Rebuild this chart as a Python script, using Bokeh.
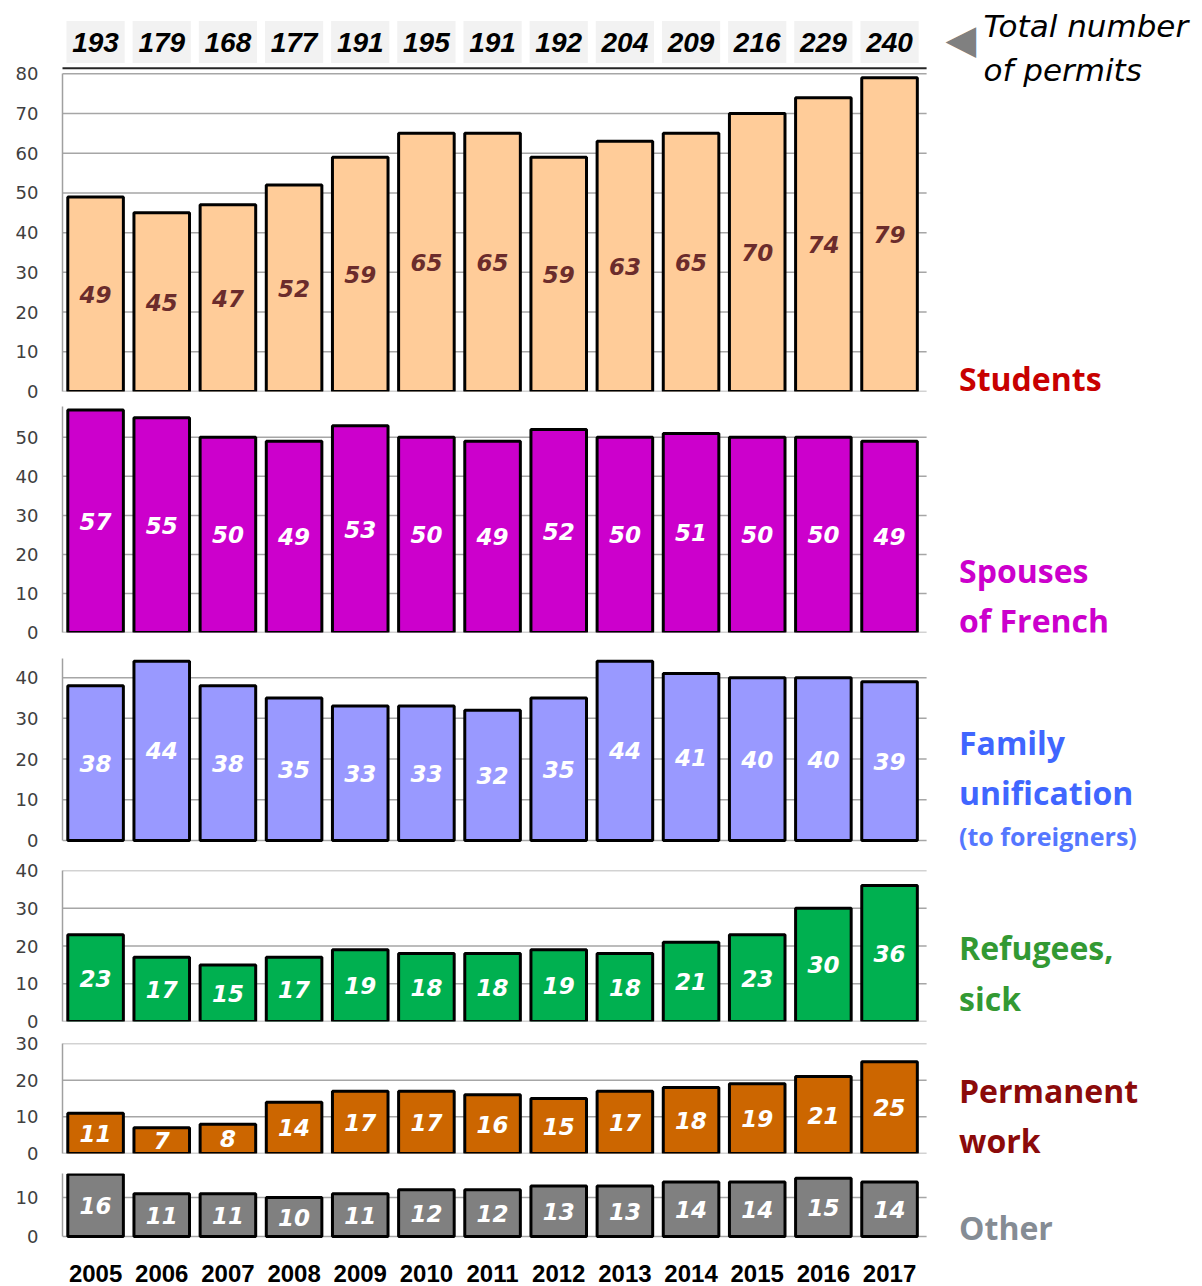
from bokeh.plotting import figure
from bokeh.models import Range1d, FixedTicker, Label
from bokeh.layouts import column
from bokeh.embed import file_html
from bokeh.resources import INLINE
from bokeh.core.properties import value

years = [str(y) for y in range(2005, 2018)]
totals = [193, 179, 168, 177, 191, 195, 191, 192, 204, 209, 216, 229, 240]
students = [49, 45, 47, 52, 59, 65, 65, 59, 63, 65, 70, 74, 79]
spouses = [57, 55, 50, 49, 53, 50, 49, 52, 50, 51, 50, 50, 49]
family = [38, 44, 38, 35, 33, 33, 32, 35, 44, 41, 40, 40, 39]
refugees = [23, 17, 15, 17, 19, 18, 18, 19, 18, 21, 23, 30, 36]
permanent = [11, 7, 8, 14, 17, 17, 16, 15, 17, 18, 19, 21, 25]
other = [16, 11, 11, 10, 11, 12, 12, 13, 13, 14, 14, 15, 14]

xi = list(range(len(years)))          # category positions
X0, X1 = -0.5, 16.73                  # data range of the frame (incl. right-hand label area)
GX1 = 12.56                           # right end of the chart area

# (values, ymin, ymax, top tick, frame_height, border_top, border_bottom, bar colour,
#  label colour, right labels [(text, y, size, colour)])
panels = [
    (students, 0, 97.2, 80, 386, 5, 11, "#FFCC99", "#6B2C2C",
     [("Students", 3.3, "32px", "#C80000")]),
    (spouses, 0, 57.9, 50, 226, 4, 11, "#CC00CC", "white",
     [("Spouses", 15.9, "32px", "#CC00CC"), ("of French", 3.1, "32px", "#CC00CC")]),
    (family, -3.7, 44.7, 40, 197, 15, 0, "#9999FF", "white",
     [("Family", 24.0, "32px", "#4066FF"), ("unification", 11.8, "32px", "#4066FF"),
      ("(to foreigners)", 1.1, "25px", "#5577FF")]),
    (refugees, 0, 40.0, 40, 151, 15, 11, "#00B050", "white",
     [("Refugees,", 19.6, "32px", "#339933"), ("sick", 6.1, "32px", "#339933")]),
    (permanent, 0, 30.0, 30, 110, 11, 11, "#CC6600", "white",
     [("Permanent", 17.2, "32px", "#8B0A0A"), ("work", 3.5, "32px", "#8B0A0A")]),
    (other, -3.6, 16.2, 10, 77, 9, 36, "#808080", "white",
     [("Other", 2.3, "32px", "#858C94")]),
]

figs = []
for i, (vals, ymin, ymax, ttop, fh, bt, bb, col, lcol, rlabels) in enumerate(panels):
    p = figure(x_range=Range1d(X0, X1), y_range=Range1d(ymin, ymax),
               frame_width=1140, frame_height=fh,
               min_border_left=62, min_border_right=0,
               min_border_top=bt, min_border_bottom=bb,
               output_backend="svg", toolbar_location=None)
    p.outline_line_color = None
    p.background_fill_color = "white"
    p.border_fill_color = "white"
    ticks = list(range(0, ttop + 1, 10))
    p.yaxis.ticker = FixedTicker(ticks=ticks)
    p.grid.visible = False
    # horizontal grid lines restricted to the chart area
    p.segment(x0=[X0] * len(ticks), x1=[GX1] * len(ticks), y0=ticks, y1=ticks,
              line_color="#A6A6A6", line_width=1.5)
    p.yaxis.bounds = (0, ttop if i == 0 else ymax)
    p.yaxis.axis_line_color = "#A0A0A0"
    p.yaxis.axis_line_width = 1.5
    p.yaxis.major_tick_line_color = None
    p.yaxis.minor_tick_line_color = None
    p.yaxis.major_label_text_font = "DejaVu Sans"
    p.yaxis.major_label_text_font_size = "18px"
    p.yaxis.major_label_text_color = "#404040"
    p.yaxis.major_label_standoff = 18

    if i == len(panels) - 1:
        p.xaxis.ticker = FixedTicker(ticks=xi)
        p.xaxis.major_label_overrides = {k: y for k, y in zip(xi, years)}
        p.xaxis.axis_line_color = None
        p.xaxis.major_tick_line_color = None
        p.xaxis.minor_tick_line_color = None
        p.xaxis.major_label_text_font = "Liberation Sans"
        p.xaxis.major_label_text_font_style = "bold"
        p.xaxis.major_label_text_font_size = "24px"
        p.xaxis.major_label_text_color = "black"
        p.xaxis.major_label_standoff = 8
    else:
        p.xaxis.visible = False

    p.vbar(x=xi, top=vals, width=0.84, fill_color=col,
           line_color="black", line_width=3)
    p.text(x=xi, y=[v / 2 for v in vals], text=[str(v) for v in vals],
           text_align="center", text_baseline="middle",
           text_font=value("DejaVu Sans"), text_font_style="bold italic",
           text_font_size="23px", text_color=lcol)

    for (t, yy, sz, c) in rlabels:
        p.add_layout(Label(x=13.05, y=yy, text=t, text_font="Open Sans",
                           text_font_style="bold", text_font_size=sz,
                           text_color=c, text_baseline="middle"))

    if i == 0:
        p.segment(x0=[-0.53], x1=[GX1], y0=[81.4], y1=[81.4],
                  line_color="#262626", line_width=2)
        p.rect(x=xi, y=88.0, width=0.88, height=10.6,
               fill_color="#F2F2F2", line_color=None)
        p.text(x=xi, y=[88.0] * len(xi), text=[str(t) for t in totals],
               text_align="center", text_baseline="middle",
               text_font=value("Liberation Sans"), text_font_style="bold italic",
               text_font_size="28px", text_color="black")
        p.add_layout(Label(x=13.08, y=88.8, text="\u25C0", text_font="DejaVu Sans",
                           text_font_size="40px", text_color="#808080",
                           text_align="center", text_baseline="middle"))
        p.add_layout(Label(x=13.42, y=92.0, text="Total number",
                           text_font="DejaVu Sans", text_font_style="italic",
                           text_font_size="31px", text_color="black",
                           text_baseline="middle"))
        p.add_layout(Label(x=13.42, y=80.9, text="of permits",
                           text_font="DejaVu Sans", text_font_style="italic",
                           text_font_size="31px", text_color="black",
                           text_baseline="middle"))
    figs.append(p)

layout = column(*figs, spacing=0)
open("out.html", "w").write(file_html(layout, INLINE))
